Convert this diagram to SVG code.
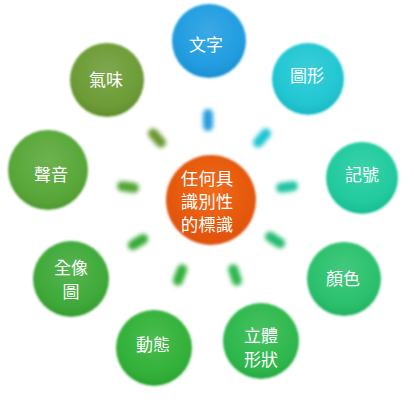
<svg xmlns="http://www.w3.org/2000/svg" width="414" height="412" viewBox="0 0 414 412">
<defs>
<filter id="soft" x="-20%" y="-20%" width="140%" height="140%"><feGaussianBlur stdDeviation="1.3"/></filter>
<filter id="dash" x="-50%" y="-50%" width="200%" height="200%"><feGaussianBlur stdDeviation="2"/></filter>
<radialGradient id="shine" cx="50%" cy="38%" r="60%">
<stop offset="0" stop-color="#fff" stop-opacity="0.14"/>
<stop offset="0.7" stop-color="#fff" stop-opacity="0.03"/>
<stop offset="1" stop-color="#000" stop-opacity="0.06"/>
</radialGradient>
<radialGradient id="orange" cx="50%" cy="40%" r="60%">
<stop offset="0" stop-color="#f06a18"/>
<stop offset="1" stop-color="#e0520a"/>
</radialGradient>
</defs>
<style>
text{font-family:"Noto Sans CJK TC","Noto Sans CJK SC",sans-serif;fill:#fff;text-anchor:middle;dominant-baseline:central;}
.o{font-size:17px;}
.c{font-size:17.5px;}
.b{filter:url(#soft);}
.d{filter:url(#dash);}
</style>
<rect width="414" height="412" fill="#fff"/>
<g id="connectors">
<rect class="d" x="-11" y="-5" width="22" height="10" rx="5" fill="#2a9ee0" transform="translate(208,120) rotate(-90)"/>
<rect class="d" x="-11" y="-5" width="22" height="10" rx="5" fill="#22c4d4" transform="translate(262,138) rotate(-49)"/>
<rect class="d" x="-11" y="-5" width="22" height="10" rx="5" fill="#20c4a0" transform="translate(287,187) rotate(-8)"/>
<rect class="d" x="-11" y="-5" width="22" height="10" rx="5" fill="#26bc70" transform="translate(275,240) rotate(33)"/>
<rect class="d" x="-11" y="-5" width="22" height="10" rx="5" fill="#2db850" transform="translate(235,275) rotate(72)"/>
<rect class="d" x="-11" y="-5" width="22" height="10" rx="5" fill="#30b03a" transform="translate(180,275) rotate(111)"/>
<rect class="d" x="-11" y="-5" width="22" height="10" rx="5" fill="#38aa38" transform="translate(138,242) rotate(149)"/>
<rect class="d" x="-11" y="-5" width="22" height="10" rx="5" fill="#52a636" transform="translate(128,187) rotate(188)"/>
<rect class="d" x="-11" y="-5" width="22" height="10" rx="5" fill="#6a9a30" transform="translate(157,138) rotate(229)"/>
</g>
<g id="center">
<circle class="b" cx="211" cy="200" r="45" fill="url(#orange)"/>
<text class="c"><tspan x="207" y="177">任何具</tspan><tspan x="207" y="200">識別性</tspan><tspan x="207" y="223">的標識</tspan></text>
</g>
<g id="n-wenzi">
<circle class="b" cx="209" cy="41" r="37" fill="#1c9be0"/>
<circle cx="209" cy="41" r="36" fill="url(#shine)"/>
<text class="o" x="206" y="43">文字</text>
</g>
<g id="n-tuxing">
<circle class="b" cx="308" cy="79" r="36" fill="#1ec6d2"/>
<circle cx="308" cy="79" r="35" fill="url(#shine)"/>
<text class="o" x="307" y="74">圖形</text>
</g>
<g id="n-jihao">
<circle class="b" cx="362" cy="178" r="36" fill="#1fca9c"/>
<circle cx="362" cy="178" r="35" fill="url(#shine)"/>
<text class="o" x="362" y="173">記號</text>
</g>
<g id="n-yanse">
<circle class="b" cx="344" cy="279" r="37" fill="#26c06a"/>
<circle cx="344" cy="279" r="36" fill="url(#shine)"/>
<text class="o" x="343" y="277">顏色</text>
</g>
<g id="n-liti">
<circle class="b" cx="261" cy="341" r="38" fill="#2cb748"/>
<circle cx="261" cy="341" r="37" fill="url(#shine)"/>
<text class="o"><tspan x="261" y="334">立體</tspan><tspan x="261" y="358">形狀</tspan></text>
</g>
<g id="n-dongtai">
<circle class="b" cx="154" cy="348" r="38" fill="#2fb034"/>
<circle cx="154" cy="348" r="37" fill="url(#shine)"/>
<text class="o" x="153" y="343">動態</text>
</g>
<g id="n-quanxiang">
<circle class="b" cx="71" cy="279" r="38" fill="#3aa836"/>
<circle cx="71" cy="279" r="37" fill="url(#shine)"/>
<text class="o"><tspan x="71" y="266">全像</tspan><tspan x="71" y="290">圖</tspan></text>
</g>
<g id="n-shengyin">
<circle class="b" cx="48" cy="170" r="40" fill="#54a634"/>
<circle cx="48" cy="170" r="39" fill="url(#shine)"/>
<text class="o" x="51" y="173">聲音</text>
</g>
<g id="n-qiwei">
<circle class="b" cx="107" cy="80" r="37" fill="#6a9a30"/>
<circle cx="107" cy="80" r="36" fill="url(#shine)"/>
<text class="o" x="106" y="78">氣味</text>
</g>
</svg>
